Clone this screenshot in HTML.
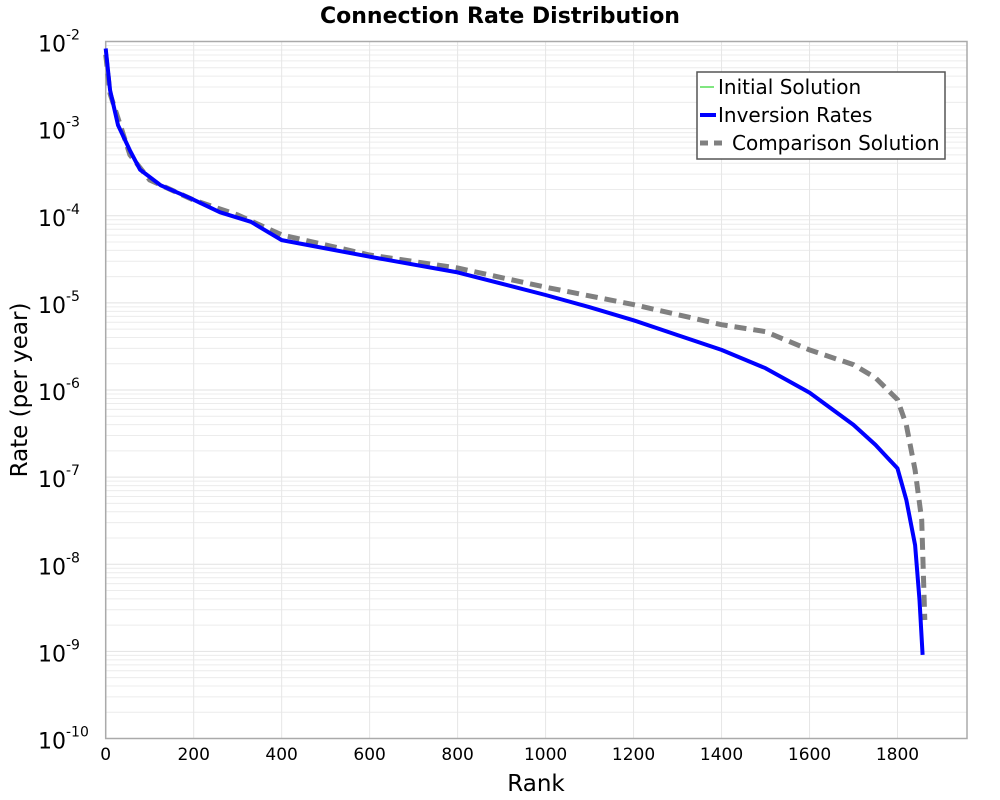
<!DOCTYPE html>
<html><head><meta charset="utf-8"><style>
body{margin:0;background:#fff;}
svg{display:block;font-family:"DejaVu Sans","Liberation Sans",sans-serif;}
</style></head><body>
<svg id="chart" width="1000" height="800"></svg>
<script>
const blueRanks=[0,10,28,55,78,125,193,260,330,400,600,800,1000,1100,1200,1300,1400,1500,1600,1700,1750,1800,1820,1840,1850,1857];
const blueLog=[-2.08,-2.56,-2.96,-3.25,-3.47,-3.65,-3.80,-3.96,-4.07,-4.28,-4.47,-4.65,-4.91,-5.05,-5.20,-5.37,-5.54,-5.75,-6.03,-6.40,-6.63,-6.90,-7.26,-7.78,-8.41,-9.04];
const grayRanks=[0,10,55,100,200,300,400,600,800,1000,1200,1400,1500,1600,1700,1750,1800,1820,1840,1855,1862];
const grayLog=[-2.15,-2.6,-3.30,-3.59,-3.82,-3.99,-4.22,-4.45,-4.60,-4.82,-5.02,-5.25,-5.33,-5.54,-5.71,-5.86,-6.11,-6.40,-6.92,-7.49,-8.64];
const xTicks=[0,200,400,600,800,1000,1200,1400,1600,1800];
const yDecades=[-2,-3,-4,-5,-6,-7,-8,-9,-10];
const NS='http://www.w3.org/2000/svg';
const svg=document.getElementById('chart');
const L=105.7,R=967,T=41.5,B=738.5,XMAX=1958;
const xs=v=>L+v/XMAX*(R-L);
const ys=lg=>T+(-2-lg)/8*(B-T);
function mk(t,a,p){const e=document.createElementNS(NS,t);for(const k in a)e.setAttribute(k,a[k]);(p||svg).appendChild(e);return e;}
const grid=mk('g',{});


for(let d=-10;d<-2;d++){for(let m=2;m<=9;m++){const y=ys(d+Math.log10(m));mk('line',{x1:L,x2:R,y1:y,y2:y,stroke:'#ececec','stroke-width':1},grid);}}
yDecades.forEach(d=>{const y=ys(d);mk('line',{x1:L,x2:R,y1:y,y2:y,stroke:'#e2e2e2','stroke-width':1},grid);});
xTicks.forEach(v=>{const x=xs(v);mk('line',{x1:x,x2:x,y1:T,y2:B,stroke:'#e6e6e6','stroke-width':1},grid);});
const frame=mk('rect',{x:L,y:T,width:R-L,height:B-T,fill:'none',stroke:'#aaa','stroke-width':1.5});


xTicks.forEach(v=>{const t=mk('text',{x:xs(v),y:760,'font-size':17,'text-anchor':'middle',fill:'#000'});t.textContent=v;

});
yDecades.forEach(d=>{const t=mk('text',{x:38,y:ys(d)+10,'font-size':22,fill:'#000'});t.textContent='10';


const s=mk('tspan',{dy:-12,'font-size':14},t);s.textContent=String(d);});
function path(ranks,logs,attrs,name){const d=ranks.map((r,i)=>(i?'L':'M')+xs(r).toFixed(1)+','+ys(logs[i]).toFixed(1)).join('');const p=mk('path',Object.assign({d:d,fill:'none'},attrs));

}
path(grayRanks,grayLog,{stroke:'#808080','stroke-width':5,'stroke-dasharray':'12,7'},'comparison-solution-line');
path(blueRanks,blueLog,{stroke:'#0000ff','stroke-width':4,'stroke-linejoin':'round'},'inversion-rates-line');
</script>
<svg width="1000" height="800" style="position:absolute;left:0;top:0" font-family="DejaVu Sans, Liberation Sans, sans-serif">
<text x="500" y="23" font-size="22" font-weight="bold" text-anchor="middle">Connection Rate Distribution</text>
<text x="536" y="791" font-size="23" text-anchor="middle">Rank</text>
<text transform="translate(27,390) rotate(-90)" font-size="23" text-anchor="middle">Rate (per year)</text>
<g>
<rect x="697" y="72" width="248" height="87" fill="#fff" stroke="#555" stroke-width="1.5"/>
<line x1="700" y1="87" x2="714" y2="87" stroke="#0c0" stroke-width="1"/>
<text x="718" y="94" font-size="20">Initial Solution</text>
<line x1="700" y1="115" x2="716" y2="115" stroke="#00f" stroke-width="4"/>
<text x="718" y="122" font-size="20">Inversion Rates</text>
<line x1="700" y1="143" x2="728" y2="143" stroke="#808080" stroke-width="5" stroke-dasharray="8,6"/>
<text x="732" y="150" font-size="20">Comparison Solution</text>
</g>
</svg>
</body></html>
